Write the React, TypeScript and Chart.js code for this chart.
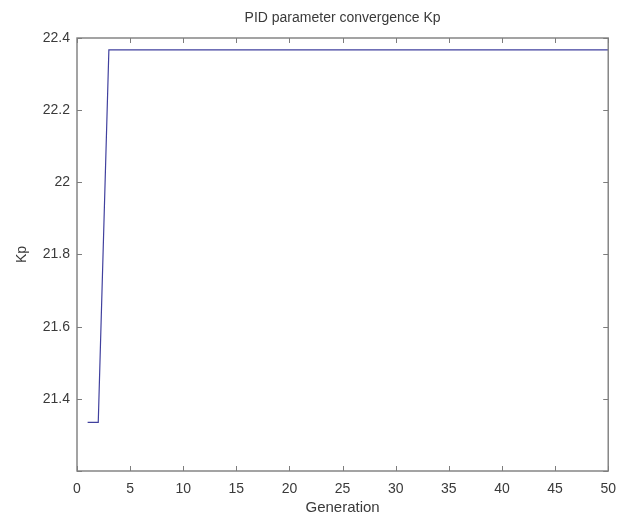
import React, { useEffect, useRef } from "react";
import { Chart, registerables } from "chart.js";

Chart.register(...registerables);

const titleText = "PID parameter convergence Kp";
const xTitle = "Generation";
const yTitle = "Kp";

const generations = [
  1, 2, 3, 4, 5, 6, 7, 8, 9, 10,
  11, 12, 13, 14, 15, 16, 17, 18, 19, 20,
  21, 22, 23, 24, 25, 26, 27, 28, 29, 30,
  31, 32, 33, 34, 35, 36, 37, 38, 39, 40,
  41, 42, 43, 44, 45, 46, 47, 48, 49, 50,
];

const kpValues = [
  21.335, 21.335, 22.367, 22.367, 22.367, 22.367, 22.367, 22.367, 22.367, 22.367,
  22.367, 22.367, 22.367, 22.367, 22.367, 22.367, 22.367, 22.367, 22.367, 22.367,
  22.367, 22.367, 22.367, 22.367, 22.367, 22.367, 22.367, 22.367, 22.367, 22.367,
  22.367, 22.367, 22.367, 22.367, 22.367, 22.367, 22.367, 22.367, 22.367, 22.367,
  22.367, 22.367, 22.367, 22.367, 22.367, 22.367, 22.367, 22.367, 22.367, 22.367,
];

const xTickValues = [0, 5, 10, 15, 20, 25, 30, 35, 40, 45, 50];
const yTickValues = [21.2, 21.4, 21.6, 21.8, 22, 22.2, 22.4];
const yTickLabels = ["", "21.4", "21.6", "21.8", "22", "22.2", "22.4"];

const AXIS_COLOR = "#7d7d7d";
const TEXT_COLOR = "#3a3a3a";
const FONT = "'Liberation Sans', Arial, sans-serif";

const boxPlugin = {
  id: "matlabBox",
  afterDraw(chart: any) {
    const { ctx, chartArea, scales } = chart;
    const { left, right, top, bottom } = chartArea;
    ctx.save();
    ctx.strokeStyle = AXIS_COLOR;
    ctx.lineWidth = 1.4;
    ctx.strokeRect(left, top, right - left, bottom - top);
    const len = 5;
    ctx.lineWidth = 1;
    ctx.beginPath();
    xTickValues.forEach((v) => {
      const px = Math.round(scales.x.getPixelForValue(v)) + 0.5;
      ctx.moveTo(px, bottom);
      ctx.lineTo(px, bottom - len);
      ctx.moveTo(px, top);
      ctx.lineTo(px, top + len);
    });
    yTickValues.forEach((v) => {
      const py = Math.round(scales.y.getPixelForValue(v)) + 0.5;
      ctx.moveTo(left, py);
      ctx.lineTo(left + len, py);
      ctx.moveTo(right, py);
      ctx.lineTo(right - len, py);
    });
    ctx.stroke();
    ctx.restore();
  },
};

export default function App() {
  const canvasRef = useRef<HTMLCanvasElement | null>(null);

  useEffect(() => {
    document.body.style.margin = "0";
    document.body.style.background = "#ffffff";
    const canvas = canvasRef.current;
    if (!canvas) return;
    const chart = new Chart(canvas, {
      type: "line",
      data: {
        labels: generations,
        datasets: [
          {
            data: generations.map((g, i) => ({ x: g, y: kpValues[i] })),
            borderColor: "#40409e",
            borderWidth: 1.2,
            pointRadius: 0,
            tension: 0,
            fill: false,
          },
        ],
      },
      options: {
        animation: false,
        responsive: false,
        maintainAspectRatio: false,
        layout: { padding: { left: 0, right: 15, top: 0, bottom: 0 } },
        plugins: {
          legend: { display: false },
          tooltip: { enabled: false },
          title: {
            display: true,
            text: titleText,
            color: TEXT_COLOR,
            font: { family: FONT, size: 14, weight: "normal" },
            padding: { top: 10, bottom: 11.2 },
            fullSize: false,
          },
        },
        scales: {
          x: {
            type: "linear",
            min: 0,
            max: 50,
            afterBuildTicks: (scale: any) => {
              scale.ticks = xTickValues.map((v) => ({ value: v }));
            },
            afterFit: (scale: any) => {
              scale.height = 49;
            },
            grid: { display: false, drawTicks: false },
            border: { display: false },
            ticks: {
              color: TEXT_COLOR,
              font: { family: FONT, size: 14 },
              padding: 10,
              maxRotation: 0,
              autoSkip: false,
            },
            title: {
              display: true,
              text: xTitle,
              color: TEXT_COLOR,
              font: { family: FONT, size: 15 },
              padding: { top: 2, bottom: 3 },
            },
          },
          y: {
            type: "linear",
            min: 21.2,
            max: 22.4,
            afterBuildTicks: (scale: any) => {
              scale.ticks = yTickValues.map((v) => ({ value: v }));
            },
            afterFit: (scale: any) => {
              scale.width = 77;
            },
            grid: { display: false, drawTicks: false },
            border: { display: false },
            ticks: {
              color: TEXT_COLOR,
              font: { family: FONT, size: 14 },
              padding: 7,
              autoSkip: false,
              callback: (_v: any, i: number) => yTickLabels[i],
            },
            title: {
              display: true,
              text: yTitle,
              color: TEXT_COLOR,
              font: { family: FONT, size: 14 },
              padding: { top: 14, bottom: 0 },
            },
          },
        },
      },
      plugins: [boxPlugin],
    });
    return () => chart.destroy();
  }, []);

  return <canvas ref={canvasRef} width={626} height={520} style={{ display: "block" }} />;
}
